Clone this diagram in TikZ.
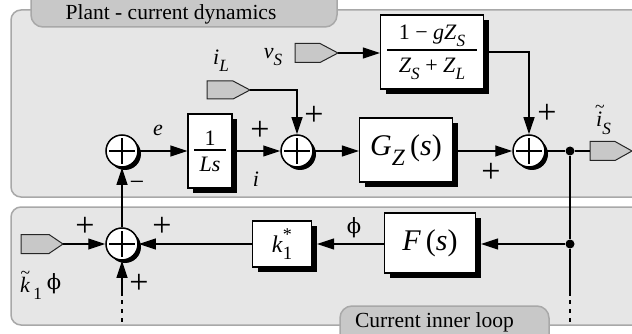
\documentclass[tikz,border=0pt]{standalone}
\usepackage{fontspec}
\setmainfont{Liberation Serif}
\newfontfamily\phifont{DejaVu Serif}
\usepackage{graphicx}
\usetikzlibrary{arrows.meta,shadows}
\definecolor{panelgray}{HTML}{E6E6E6}
\definecolor{bordergray}{HTML}{A8A8A8}
\definecolor{tabgray}{HTML}{C8C8C8}
\definecolor{portgray}{HTML}{C8C8C8}
\newcommand\sbs[1]{\raisebox{-0.32em}{\scalebox{0.78}{#1}}}
\newcommand\tld[3]{\leavevmode\rlap{\hspace{#2}\raisebox{#3}{\scalebox{0.8}{\upshape\textasciitilde}}}#1}
\newcommand\fr[5]{\vbox{\hbox to #1{\hss#2\hss}\kern#4\hrule height 1.3pt\kern#5\hbox to #1{\hss#3\hss}}}
\newcommand\inport[6]{%
  \draw[port] (#2,#3-#6) -- ++(#4,0) -- ++(#5,#6) -- ++(-#5,#6) -- ++(-#4,0) -- cycle;
  \coordinate (#1) at (#2+#4+#5,#3);
  \coordinate (#1-in) at (#2,#3);}
\begin{document}
\begin{tikzpicture}[x=1pt,y=-1pt,
  sig/.style={line width=1.2pt},
  arr/.style={sig,-{Triangle[length=17pt,width=11pt]}},
  dots/.style={line width=2.6pt,dash pattern=on 4pt off 5pt,dash phase=5pt},
  blk/.style={draw,line width=1.2pt,fill=white,inner sep=0pt,
    drop shadow={shadow xshift=5pt,shadow yshift=-5pt,fill=black,opacity=1}},
  sumn/.style={circle,draw,line width=1.5pt,fill=white,minimum size=32pt,inner sep=0pt,
    drop shadow={shadow xshift=3pt,shadow yshift=-3pt,fill=black,opacity=1},
    path picture={\draw[line width=1.2pt]
      ([xshift=-13pt]path picture bounding box.center) -- ([xshift=13pt]path picture bounding box.center)
      ([yshift=-13pt]path picture bounding box.center) -- ([yshift=13pt]path picture bounding box.center);}},
  jdot/.style={circle,fill=black,inner sep=0pt,minimum size=9pt},
  panel/.style={fill=panelgray,draw=bordergray,line width=1.5pt,rounded corners=10pt},
  tab/.style={fill=tabgray,draw=bordergray,line width=1.5pt,rounded corners=12pt},
  tabtxt/.style={inner sep=0pt,font=\fontsize{21.5}{24}\selectfont},
  lbl/.style={inner sep=0pt,font=\fontsize{22}{24}\selectfont},
  pls/.style={inner sep=0pt,font=\fontsize{34}{36}\selectfont},
  mns/.style={inner sep=0pt,font=\fontsize{26}{28}\selectfont},
  big/.style={font=\fontsize{30}{32}\selectfont},
  mid/.style={font=\fontsize{22}{26}\selectfont},
  port/.style={fill=portgray,draw=black!85,line width=1pt},
]
\useasboundingbox (0,0) rectangle (632,334);
\fill[white] (0,0) rectangle (632,334);
% panels
\draw[panel] (11,10) rectangle (660,197);
\draw[panel] (11,207) rectangle (660,325);
\draw[tab] (31,-15) rectangle (337,27);
\draw[tab] (340,306) rectangle (549,350);
\node[tabtxt,anchor=base] (t1) at (171,20) {Plant - current dynamics};
\node[tabtxt,anchor=base] (t2) at (434.5,327) {Current inner loop};
% ports
\inport{vS}{295}{53}{25}{18}{9.5}
\inport{iL}{207}{90}{26}{17}{9}
\inport{kin}{21}{244}{28}{14}{9.5}
\inport{iS}{590}{151}{25}{17}{9.5}
% sums
\node[sumn] (sum1) at (122,151) {};
\node[sumn] (sum2) at (297,151) {};
\node[sumn] (sum3) at (529,151) {};
\node[sumn] (sum4) at (122,244) {};
% blocks
\node[blk,mid,minimum width=44pt,minimum height=74pt] (bLs) at (210,151)
  {\fr{32pt}{1}{\textit{Ls}}{4pt}{6pt}};
\node[blk,big,minimum width=93pt,minimum height=64pt] (bGz) at (406,150)
  {\textit{G}\sbs{\textit{Z}}\,(\textit{s})};
\node[blk,mid,minimum width=103pt,minimum height=74pt] (bfrac) at (432,52)
  {\fr{90pt}{1 − \textit{gZ}\sbs{\textit{S}}}{\textit{Z}\sbs{\textit{S}} + \textit{Z}\sbs{\textit{L}}}{3pt}{7pt}};
\node[blk,font=\fontsize{24}{26}\selectfont,minimum width=59pt,minimum height=46pt] (bk) at (282,244)
  {\textit{k}\rlap{\raisebox{.5em}{\scalebox{.75}{*}}}\sbs{1}};
\node[blk,big,minimum width=91pt,minimum height=60pt] (bF) at (430,243)
  {\textit{F}\,(\textit{s})};
\coordinate (bFs) at ([xshift=5pt]bF.east);
\coordinate (bks) at ([xshift=5pt]bk.east);
% junctions
\node[jdot] (jT) at (570,151) {};
\node[jdot] (jB) at (570,244) {};
\coordinate (dR) at (570,296);
\coordinate (dRe) at (570,322);
\coordinate (dL) at (122,296);
\coordinate (dLe) at (122,322);
% connectors
\draw[arr] (sum1) -- (bLs);
\draw[arr] (bLs.east |- sum2) -- (sum2);
\draw[arr] (sum2) -- (sum2 -| bGz.west);
\draw[arr] (bGz.east |- sum3) -- (sum3);
\draw[sig] (sum3) -- (jT) -- (iS-in);
\draw[arr] (vS) -- (vS -| bfrac.west);
\draw[arr] (bfrac.east) -| (sum3);
\draw[arr] (iL) -| (sum2);
\draw[arr] (kin) -- (sum4);
\draw[arr] (sum4) -- (sum1);
\draw[sig] (jT) -- (jB);
\draw[arr] (jB) -- (jB -| bFs);
\draw[arr] (bF.west |- jB) -- (jB -| bks);
\draw[arr] (bk.west |- sum4) -- (sum4);
\draw[sig] (jB) -- (dR);
\draw[dots] (dR) -- (dRe);
\draw[arr] (dL) -- (sum4);
\draw[dots] (dL) -- (dLe);
% labels
\node[lbl] (le) at (158,130) {\textit{e}};
\node[lbl] (li) at (256,179) {\textit{i}};
\node[lbl] (liL) at (221,61) {\textit{i}\sbs{\textit{L}}};
\node[lbl] (lvS) at (273,57) {\textit{v}\sbs{\textit{S}}};
\node[lbl,anchor=base west] (liS) at (596,127) {\tld{\textit{i}}{-0.05em}{0.68em}\sbs{\textit{S}}};
\node[lbl,font=\fontsize{21}{24}\selectfont] (lphi) at (354,228) {\phifont ϕ};
\node[lbl,anchor=base west] (lk) at (20,292) {\tld{\textit{k}}{0.02em}{0.6em}\hspace{3pt}\sbs{1}\hspace{5pt}{\phifont\fontsize{21}{24}\selectfont\raisebox{0.1em}{ϕ}}};
\node[pls] (p1) at (260,131) {+};
\node[pls] (p2) at (314,116) {+};
\node[pls] (p3) at (547,114) {+};
\node[pls] (p4) at (491,173) {+};
\node[pls] (p5) at (85,227) {+};
\node[pls] (p6) at (162,227) {+};
\node[pls] (p7) at (139,284) {+};
\node[mns] (m1) at (137,186) {−};
\end{tikzpicture}
\end{document}
